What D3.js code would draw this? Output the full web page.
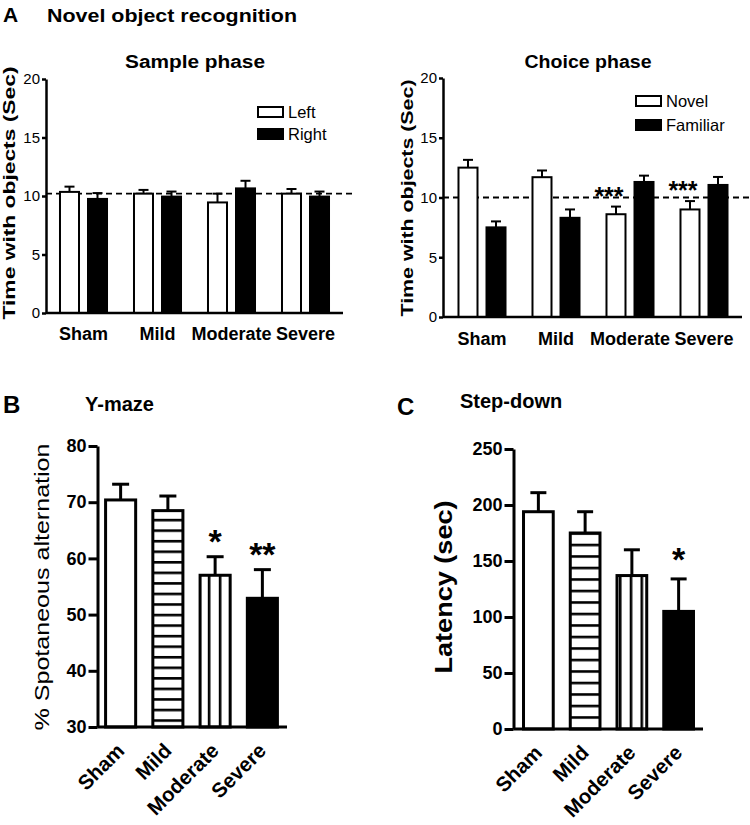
<!DOCTYPE html>
<html><head><meta charset="utf-8">
<script src="https://cdn.jsdelivr.net/npm/d3@7"></script>
<style>body{margin:0;background:#fff}</style>
</head><body><svg id="chart" width="750" height="825"></svg>
<script>
// ---------- DATA ----------
const groups = ["Sham", "Mild", "Moderate", "Severe"];
const sampleSeries = ["Left", "Right"];
const sampleLeft = [10.35, 10.2, 9.45, 10.2];
const sampleLeftErr = [0.45, 0.32, 0.75, 0.4];
const sampleRight = [9.75, 9.95, 10.65, 9.95];
const sampleRightErr = [0.5, 0.43, 0.65, 0.43];
const sampleRef = 10.2;
const choiceSeries = ["Novel", "Familiar"];
const choiceNovel = [12.5, 11.7, 8.6, 9.0];
const choiceNovelErr = [0.65, 0.56, 0.64, 0.7];
const choiceFamiliar = [7.5, 8.3, 11.3, 11.05];
const choiceFamiliarErr = [0.5, 0.7, 0.53, 0.67];
const choiceRef = 10;
const choiceSig = ["", "", "***", "***"];
const ticksA = [0, 5, 10, 15, 20];
const ymazeMean = [70.4, 68.5, 57.0, 52.9];
const ymazeErr = [2.8, 2.6, 3.3, 5.1];
const ymazeSig = ["", "", "*", "**"];
const ticksB = [30, 40, 50, 60, 70, 80];
const stepMean = [194, 175, 137, 105];
const stepErr = [17, 19, 23, 29];
const stepSig = ["", "", "", "*"];
const ticksC = [0, 50, 100, 150, 200, 250];

// ---------- DRAW ----------
const FONT = '"Liberation Sans", Arial, Helvetica, sans-serif';
const svg = d3.select("#chart");
svg.append("rect").attr("width", 750).attr("height", 825).attr("fill", "#fff");
const defs = svg.append("defs");

function hPattern(id, y0, h, w) {
  const p = defs.append("pattern").attr("id", id).attr("patternUnits", "userSpaceOnUse")
    .attr("x", 0).attr("y", y0).attr("width", 10).attr("height", h);
  p.append("rect").attr("width", 10).attr("height", h).attr("fill", "#fff");
  p.append("rect").attr("width", 10).attr("height", w).attr("fill", "#000");
}
function vPattern(id, x0, wd, w) {
  const p = defs.append("pattern").attr("id", id).attr("patternUnits", "userSpaceOnUse")
    .attr("x", x0).attr("y", 0).attr("width", wd).attr("height", 10);
  p.append("rect").attr("width", wd).attr("height", 10).attr("fill", "#fff");
  p.append("rect").attr("width", w).attr("height", 10).attr("fill", "#000");
}
hPattern("hB", 518.8, 10.55, 2.6);
vPattern("vB", 207.8, 11, 2.6);
hPattern("hC", 543.7, 11.5, 2.6);
vPattern("vC", 629.7, 10.8, 2.6);

function txt(g, x, y, s, o = {}) {
  const t = g.append("text").attr("x", x).attr("y", y).text(s)
    .attr("font-family", FONT).attr("font-size", o.fs || 16)
    .attr("font-weight", o.fw || "bold").attr("text-anchor", o.anchor || "start")
    .attr("fill", "#000");
  if (o.len) t.attr("textLength", o.len).attr("lengthAdjust", "spacingAndGlyphs");
  if (o.rot) t.attr("transform", `rotate(${o.rot},${x},${y})`);
  return t;
}

function yAxis(g, scale, ticks, o) {
  const ax = d3.axisLeft(scale).tickValues(ticks).tickSize(o.ts).tickSizeOuter(0).tickPadding(o.pad);
  const a = g.append("g").attr("transform", `translate(${o.x},0)`).call(ax);
  a.select(".domain").attr("stroke", "#000").attr("stroke-width", o.sw);
  a.selectAll(".tick line").attr("stroke", "#000").attr("stroke-width", o.sw);
  a.selectAll(".tick text").attr("font-family", FONT).attr("font-size", o.fs)
    .attr("font-weight", o.fw).attr("fill", "#000");
}

// ----- Panel A (grouped) -----
function grouped(o) {
  const g = svg.append("g");
  const x = d3.scaleBand().domain(groups).range(o.band);
  const xi = d3.scaleBand().domain(o.names).range([0, x.bandwidth()])
    .paddingInner(0.25).paddingOuter(0.446);
  const y = d3.scaleLinear().domain([0, 20]).range([o.y0, o.y1]);

  g.append("line").attr("x1", o.axisX).attr("x2", o.refEnd)
    .attr("y1", y(o.ref)).attr("y2", y(o.ref))
    .attr("stroke", "#000").attr("stroke-width", 1.8).attr("stroke-dasharray", "6,4");

  o.series.forEach((s, si) => {
    const name = o.names[si];
    const sg = g.append("g");
    const cx = (d, i) => x(groups[i]) + xi(name) + xi.bandwidth() / 2;
    sg.selectAll("line.eb").data(s.values).join("line").attr("class", "eb")
      .attr("x1", cx).attr("x2", cx)
      .attr("y1", d => y(d)).attr("y2", (d, i) => y(d + s.errs[i]))
      .attr("stroke", "#000").attr("stroke-width", 2);
    sg.selectAll("line.cap").data(s.values).join("line").attr("class", "cap")
      .attr("x1", (d, i) => cx(d, i) - 5).attr("x2", (d, i) => cx(d, i) + 5)
      .attr("y1", (d, i) => y(d + s.errs[i])).attr("y2", (d, i) => y(d + s.errs[i]))
      .attr("stroke", "#000").attr("stroke-width", 2);
    sg.selectAll("rect").data(s.values).join("rect")
      .attr("x", (d, i) => x(groups[i]) + xi(name) + 1)
      .attr("y", d => y(d))
      .attr("width", xi.bandwidth() - 2)
      .attr("height", d => y(0) - y(d))
      .attr("fill", s.fill).attr("stroke", "#000").attr("stroke-width", 2);
  });

  if (o.sig) {
    g.selectAll("text.sig").data(o.sig).join("text").attr("class", "sig")
      .attr("x", (d, i) => x(groups[i]) + xi(o.names[0]) + xi.bandwidth() / 2 - 7)
      .attr("y", (d, i) => y(o.series[0].values[i] + o.series[0].errs[i]) - 2)
      .attr("text-anchor", "middle").attr("font-family", FONT).attr("font-size", 25)
      .attr("font-weight", "bold").text(d => d);
  }

  yAxis(g, y, ticksA, { x: o.axisX, ts: 4, pad: 2, sw: 2.5, fs: 15, fw: "normal" });
  g.append("line").attr("x1", o.axisX).attr("x2", o.axisEnd).attr("y1", y(0)).attr("y2", y(0))
    .attr("stroke", "#000").attr("stroke-width", 2.5);
  g.selectAll("text.xl").data(groups).join("text").attr("class", "xl")
    .attr("x", d => x(d) + x.bandwidth() / 2).attr("y", y(0) + o.labDy)
    .attr("text-anchor", "middle").attr("font-family", FONT).attr("font-size", 18)
    .attr("font-weight", "bold").text(d => d);

  // legend
  o.names.forEach((n, i) => {
    g.append("rect").attr("x", o.legX).attr("y", o.legY[i]).attr("width", 25).attr("height", 10)
      .attr("fill", o.series[i].fill).attr("stroke", "#000").attr("stroke-width", 2);
    txt(g, o.legX + 30, o.legY[i] + 11, n, { fs: 16.5, fw: "normal" });
  });
  txt(g, o.titleX, 68, o.title, { fs: 18, anchor: "middle", len: o.titleLen });
  const yl = txt(g, 0, 0, "Time with objects (Sec)", { fs: 17, anchor: "middle", len: o.ylLen });
  yl.attr("transform", `translate(${o.ylX},${o.ylY}) rotate(-90)`);
}

txt(svg, 3, 22, "A", { fs: 21 });
txt(svg, 47, 22, "Novel object recognition", { fs: 18, len: 250 });

grouped({
  band: [46.5, 342.5], y0: 313, y1: 79, axisX: 46, axisEnd: 343, refEnd: 353,
  names: sampleSeries, ref: sampleRef,
  series: [{ values: sampleLeft, errs: sampleLeftErr, fill: "#fff" },
           { values: sampleRight, errs: sampleRightErr, fill: "#000" }],
  labDy: 27, legX: 258, legY: [107, 129],
  title: "Sample phase", titleX: 195, titleLen: 140,
  ylX: 15, ylY: 193, ylLen: 253
});
grouped({
  band: [445, 741], y0: 317, y1: 78, axisX: 443, axisEnd: 742, refEnd: 750,
  names: choiceSeries, ref: choiceRef, sig: choiceSig,
  series: [{ values: choiceNovel, errs: choiceNovelErr, fill: "#fff" },
           { values: choiceFamiliar, errs: choiceFamiliarErr, fill: "#000" }],
  labDy: 28, legX: 636, legY: [96, 120],
  title: "Choice phase", titleX: 588, titleLen: 127,
  ylX: 413, ylY: 198, ylLen: 237
});

// ----- Panels B, C -----
function single(o) {
  const g = svg.append("g");
  const x = d3.scaleBand().domain(groups).range(o.band).paddingInner(0.3).paddingOuter(0.15);
  const y = d3.scaleLinear().domain(o.domain).range([o.y0, o.y1]);
  const cx = (d, i) => x(groups[i]) + x.bandwidth() / 2;
  const top = (d, i) => y(o.values[i] + o.errs[i]);
  g.selectAll("line.eb").data(o.values).join("line").attr("class", "eb")
    .attr("x1", cx).attr("x2", cx).attr("y1", d => y(d)).attr("y2", top)
    .attr("stroke", "#000").attr("stroke-width", 3);
  g.selectAll("line.cap").data(o.values).join("line").attr("class", "cap")
    .attr("x1", (d, i) => cx(d, i) - o.cap / 2).attr("x2", (d, i) => cx(d, i) + o.cap / 2)
    .attr("y1", top).attr("y2", top).attr("stroke", "#000").attr("stroke-width", 3);
  g.selectAll("rect").data(o.values).join("rect")
    .attr("x", (d, i) => x(groups[i]) + 1.5).attr("y", d => y(d))
    .attr("width", x.bandwidth() - 3).attr("height", d => y(o.domain[0]) - y(d))
    .attr("fill", (d, i) => o.fills[i]).attr("stroke", "#000").attr("stroke-width", 3);
  g.selectAll("text.sig").data(o.sig).join("text").attr("class", "sig")
    .attr("x", cx).attr("y", (d, i) => top(d, i) + o.sigDy)
    .attr("text-anchor", "middle").attr("font-family", FONT).attr("font-size", 34)
    .attr("font-weight", "bold").text(d => d);
  yAxis(g, y, o.ticks, { x: o.axisX, ts: 9, pad: 2, sw: 3, fs: 18, fw: "bold" });
  g.append("line").attr("x1", o.axisX).attr("x2", o.axisEnd)
    .attr("y1", y(o.domain[0])).attr("y2", y(o.domain[0]))
    .attr("stroke", "#000").attr("stroke-width", 3);
  g.selectAll("text.xl").data(groups).join("text").attr("class", "xl")
    .attr("transform", d => `translate(${x(d) + x.bandwidth() / 2 + 5},${y(o.domain[0]) + 25}) rotate(-45)`)
    .attr("text-anchor", "end").attr("font-family", FONT).attr("font-size", 20.5)
    .attr("font-weight", "bold").text(d => d);
  txt(g, o.letterX, o.letterY, o.letter, { fs: 24 });
  txt(g, o.titleX, o.titleY, o.title, { fs: 20 });
  const yl = txt(g, 0, 0, o.ylabel, { fs: o.ylFs, fw: o.ylFw, anchor: "middle", len: o.ylLen });
  yl.attr("transform", `translate(${o.ylX},${o.ylY}) rotate(-90)`);
}

single({
  band: [97, 286], domain: [30, 80], y0: 727, y1: 446, axisX: 97.5, axisEnd: 287,
  values: ymazeMean, errs: ymazeErr, sig: ymazeSig, ticks: ticksB, cap: 17, sigDy: -4,
  fills: ["#fff", "url(#hB)", "url(#vB)", "#000"],
  letter: "B", letterX: 3, letterY: 413, title: "Y-maze", titleX: 85, titleY: 411,
  ylabel: "% Spotaneous alternation", ylFs: 21, ylFw: "normal", ylLen: 287, ylX: 49, ylY: 587
});
single({
  band: [515, 702], domain: [0, 250], y0: 729, y1: 449, axisX: 513.5, axisEnd: 703,
  values: stepMean, errs: stepErr, sig: stepSig, ticks: ticksC, cap: 16, sigDy: -8,
  fills: ["#fff", "url(#hC)", "url(#vC)", "#000"],
  letter: "C", letterX: 397, letterY: 415, title: "Step-down", titleX: 460, titleY: 408,
  ylabel: "Latency (sec)", ylFs: 24, ylFw: "bold", ylLen: 173, ylX: 452, ylY: 587
});
</script>
</body></html>
